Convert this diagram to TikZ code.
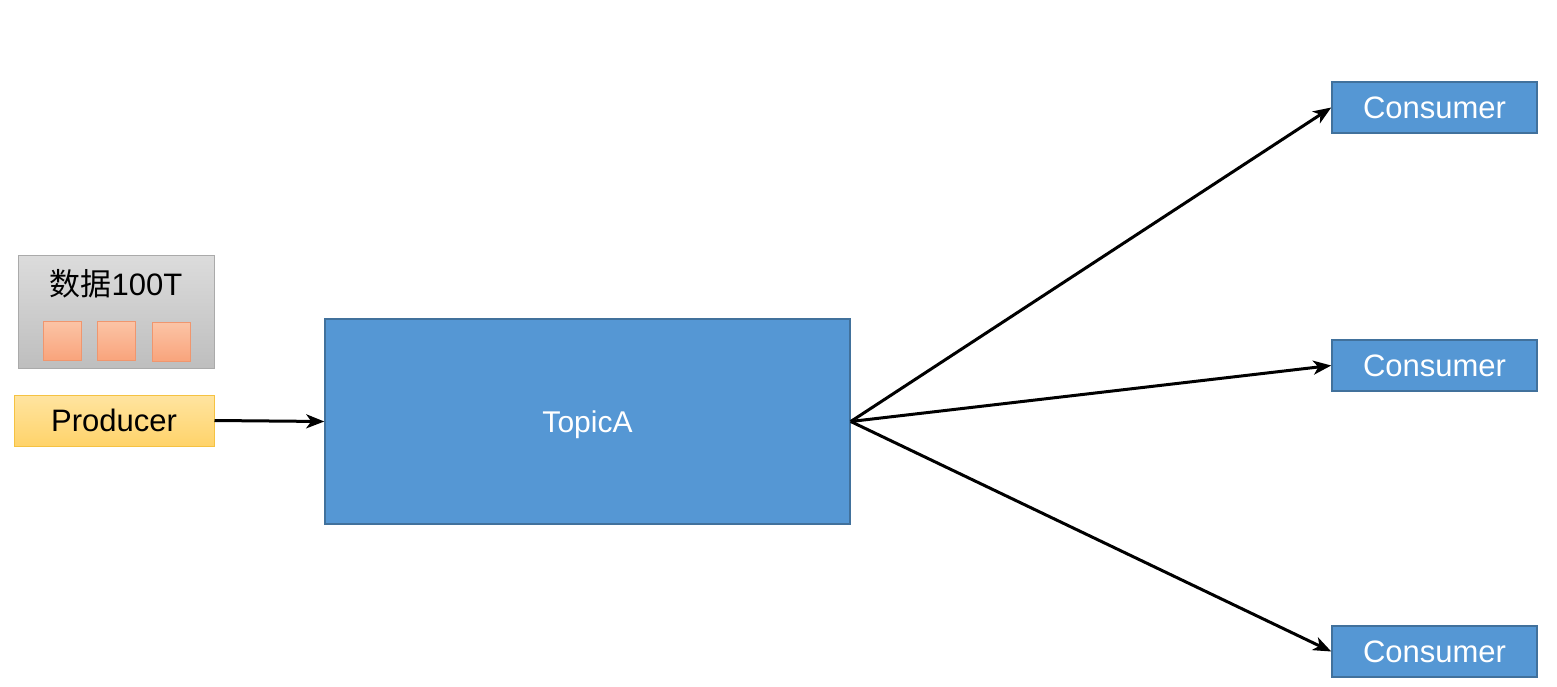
\documentclass[tikz,border=0pt]{standalone}
\usepackage{fontspec}
\setmainfont{Liberation Sans}
\newfontfamily\cjkfont{Noto Sans CJK SC}
\usetikzlibrary{arrows.meta}
\definecolor{bluefill}{HTML}{5597D4}
\definecolor{blueline}{HTML}{41719C}
\tikzset{
  bluebox/.style={draw=blueline, line width=1.5pt, fill=bluefill, text=white, inner sep=0pt},
  lbl/.style={font=\fontsize{31}{36}\selectfont},
  conn/.style={line width=3pt, -{Stealth[length=18pt,width=14pt,inset=5pt]}},
  sq/.style={draw={rgb,255:red,240;green,150;blue,110}, line width=0.8pt, top color={rgb,255:red,251;green,196;blue,166}, bottom color={rgb,255:red,249;green,164;blue,124}, minimum width=38pt, minimum height=39pt, inner sep=0pt}
}
\begin{document}
\begin{tikzpicture}[x=1pt,y=-1pt]
\useasboundingbox (0,0) rectangle (1557,687);
% data box
\node[draw={rgb,255:red,170;green,170;blue,170}, line width=1pt, top color={rgb,255:red,220;green,220;blue,220}, bottom color={rgb,255:red,190;green,190;blue,190}, minimum width=196pt, minimum height=113pt, inner sep=0pt] (data) at (116,311.5) {};
\node[lbl, text=black] (datalbl) at (116,284) {{\cjkfont 数据}100T};
\node[sq] (s1) at (62,340.5) {};
\node[sq] (s2) at (116,340.5) {};
\node[sq] (s3) at (171,341.5) {};
% producer
\node[draw={rgb,255:red,245;green,194;blue,66}, line width=1pt, top color={rgb,255:red,255;green,228;blue,160}, bottom color={rgb,255:red,255;green,211;blue,106}, minimum width=200pt, minimum height=51pt, inner sep=0pt, lbl] (prod) at (114,420.5) {Producer};
% topic
\node[bluebox, minimum width=525pt, minimum height=205pt, font=\fontsize{30}{36}\selectfont, text height=28pt, text depth=6pt] (topic) at (587.5,421.5) {TopicA};
% consumers
\node[bluebox, minimum width=205pt, minimum height=51pt, lbl] (c1) at (1434.5,107.5) {Consumer};
\node[bluebox, minimum width=205pt, minimum height=51pt, lbl] (c2) at (1434.5,365.5) {Consumer};
\node[bluebox, minimum width=205pt, minimum height=51pt, lbl] (c3) at (1434.5,651.5) {Consumer};
% arrows
\draw[conn] (prod.east) -- (topic.west);
\draw[conn] (topic.east) -- (c1.west);
\draw[conn] (topic.east) -- (c2.west);
\draw[conn] (topic.east) -- (c3.west);
\end{tikzpicture}
\end{document}
